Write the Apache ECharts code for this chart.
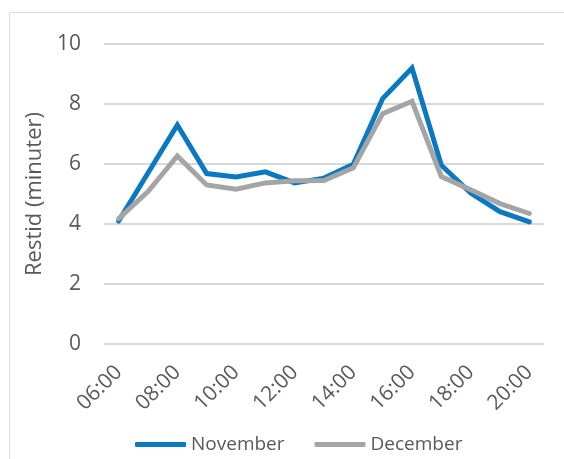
<!DOCTYPE html>
<html><head><meta charset="utf-8">
<script src="https://cdn.jsdelivr.net/npm/echarts@6/dist/echarts.min.js"></script>
<style>html,body{margin:0;padding:0;background:#fff}#c{width:564px;height:459px}</style>
</head><body><div id="c"></div>
<script>
const categories = ['06:00','07:00','08:00','09:00','10:00','11:00','12:00','13:00','14:00','15:00','16:00','17:00','18:00','19:00','20:00'];
const november = [4.1, 5.7, 7.3, 5.68, 5.57, 5.74, 5.37, 5.53, 5.99, 8.18, 9.2, 5.96, 5.03, 4.41, 4.07];
const december = [4.18, 5.08, 6.27, 5.3, 5.16, 5.37, 5.44, 5.45, 5.87, 7.68, 8.09, 5.58, 5.14, 4.68, 4.35];
const yTicks = {min: 0, max: 10, interval: 2};
const font = 'Open Sans';
const chart = echarts.init(document.getElementById('c'), null, {renderer: 'canvas'});
chart.setOption({
  animation: false,
  graphic: [{type: 'rect', shape: {x: 9.5, y: 12.5, width: 700, height: 600}, style: {fill: 'none', stroke: '#D9D9D9', lineWidth: 1}, silent: true}],
  grid: {left: 104, right: 20, top: 44, bottom: 115, containLabel: false},
  legend: {
    top: 430, left: 130, itemWidth: 51, itemHeight: 5, itemGap: 30,
    icon: 'roundRect',
    textStyle: {fontFamily: font, fontSize: 19, color: '#595959'},
    data: [{name: 'November'}, {name: 'December'}]
  },
  xAxis: {
    type: 'category', data: categories, boundaryGap: true,
    axisLine: {show: false}, axisTick: {show: false},
    axisLabel: {interval: 1, rotate: 45, fontFamily: font, fontSize: 21, color: '#595959', margin: 25}
  },
  yAxis: {
    type: 'value', min: yTicks.min, max: yTicks.max, interval: yTicks.interval,
    name: 'Restid (minuter)', nameLocation: 'middle', nameGap: 58,
    nameTextStyle: {fontFamily: font, fontSize: 22, color: '#595959'},
    axisLine: {show: false}, axisTick: {show: false},
    axisLabel: {fontFamily: font, fontSize: 21, color: '#595959', margin: 23},
    splitLine: {lineStyle: {color: '#D9D9D9', width: 2}}
  },
  series: [
    {name: 'November', type: 'line', data: november, symbol: 'none', color: '#0B78C2',
     lineStyle: {width: 5, color: '#0B78C2', cap: 'round', join: 'miter'}},
    {name: 'December', type: 'line', data: december, symbol: 'none', color: '#A5A5A5',
     lineStyle: {width: 5, color: '#A5A5A5', cap: 'round', join: 'miter'}}
  ]
});
</script></body></html>
